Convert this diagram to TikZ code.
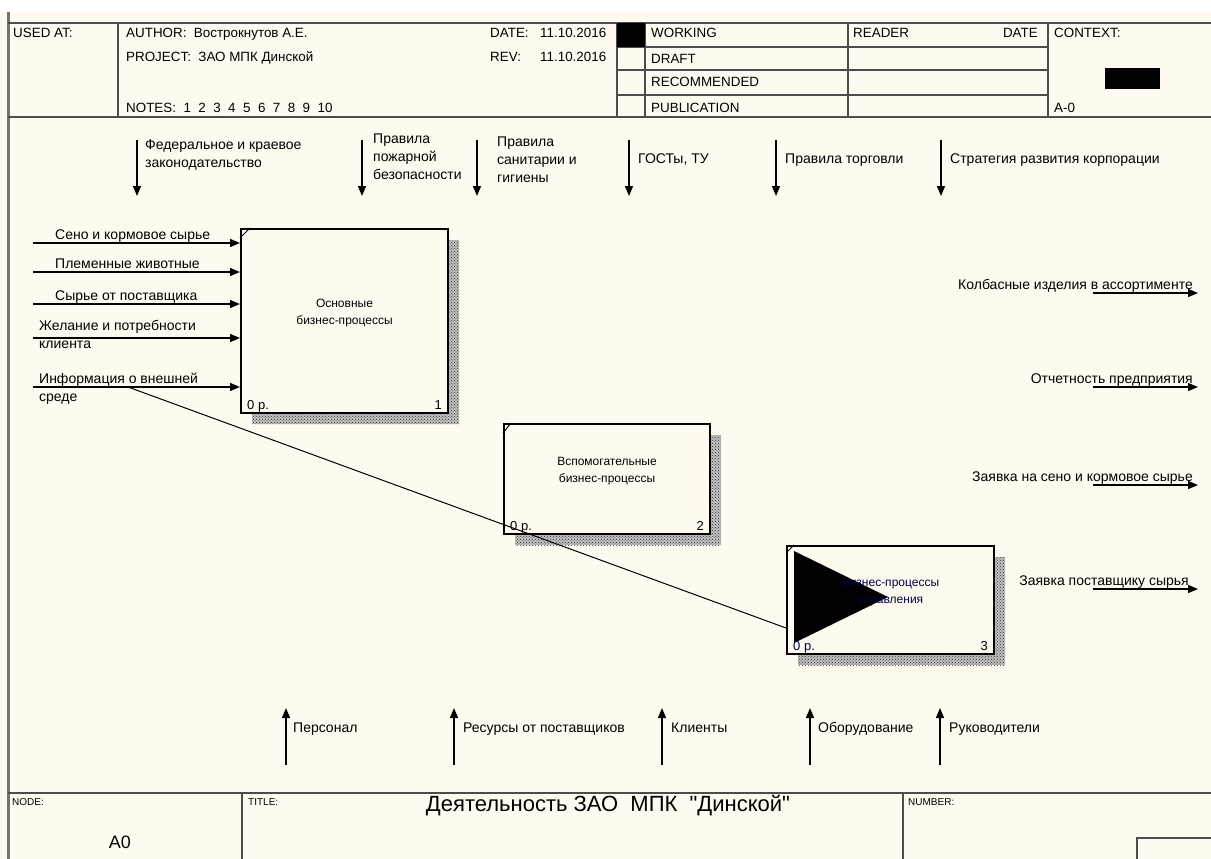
\documentclass[tikz,border=0pt]{standalone}
\usepackage{fontspec}
\setmainfont{Liberation Sans}
\newfontfamily\plainsans{Liberation Sans}
\usepackage{tikz}
\usetikzlibrary{arrows.meta}
\usetikzlibrary{patterns}
\definecolor{paper}{RGB}{255,250,240}

\begin{document}
\begin{tikzpicture}[x=1pt,y=-1pt,
        arr/.style={line width=1.3pt,-{Triangle[length=10pt,width=8pt]}},
        frm/.style={black!70,line width=1.2pt},
        lbl/.style={font=\fontsize{14}{18}\selectfont,inner sep=0pt,align=left},
        hdr/.style={font=\fontsize{13.4}{16}\selectfont,inner sep=0pt,anchor=base west},
        smalllbl/.style={font=\fontsize{10}{12}\selectfont,inner sep=0pt,anchor=base west},
        func/.style={draw,line width=2pt,fill=paper,inner sep=0pt,anchor=north west},
        ftext/.style={font=\fontsize{12}{17}\selectfont,inner sep=0pt,align=center},
        fnum/.style={font=\fontsize{13}{15}\selectfont,inner sep=0pt},
        shade/.style={fill=black!25,postaction={pattern=crosshatch dots,pattern color=black!80}}]
        \fill[white] (0,0) rectangle (1211,859);
        \fill[paper] (0,12) rectangle (1211,859);
        \useasboundingbox (0,0) rectangle (1211,859);
        \draw[black!55,line width=3pt] (8,12) -- (8,859);

        % header
        \draw[frm] (8,23) -- (1211,23);
        \draw[frm] (8,117) -- (1211,117);
        \draw[frm] (118,23) -- (118,117);
        \draw[frm] (617,23) -- (617,117);
        \draw[frm] (645,23) -- (645,117);
        \draw[frm] (848,23) -- (848,117);
        \draw[frm] (1048,23) -- (1048,117);
        \draw[frm] (617,47) -- (1048,47);
        \draw[frm] (617,70) -- (1048,70);
        \draw[frm] (617,95) -- (1048,95);
        \fill (617,23) rectangle (645,47);
        \fill (1105,68) rectangle (1160,89);

        \node[hdr] (usedat) at (13,38) {USED AT:};
        \node[hdr] (author) at (126,38) {AUTHOR:\ \ Вострокнутов А.Е.};
        \node[hdr] (project) at (126,62) {PROJECT:\ \ ЗАО МПК Динской};
        \node[hdr] (notes) at (126,113) {NOTES:\ \ 1\ \ 2\ \ 3\ \ 4\ \ 5\ \ 6\ \ 7\ \ 8\ \ 9\ \ 10};
        \node[hdr] (date) at (490,38) {DATE:};
        \node[hdr] (dateval) at (540,38) {11.10.2016};
        \node[hdr] (rev) at (490,62) {REV:};
        \node[hdr] (revval) at (540,62) {11.10.2016};
        \node[hdr] (working) at (651,38) {WORKING};
        \node[hdr] (draft) at (651,64) {DRAFT};
        \node[hdr] (recom) at (651,87) {RECOMMENDED};
        \node[hdr] (public) at (651,112) {PUBLICATION};
        \node[hdr] (reader) at (853,38) {READER};
        \node[hdr,anchor=base east] (rdate) at (1038,38) {DATE};
        \node[hdr] (context) at (1054,38) {CONTEXT:};
        \node[hdr] (ctxnode) at (1054,112) {A-0};

        % footer
        \draw[frm] (8,793) -- (1211,793);
        \draw[frm] (242,793) -- (242,859);
        \draw[frm] (903,793) -- (903,859);
        \draw[frm] (1137,859) -- (1137,838) -- (1211,838);
        \node[smalllbl] (nodelbl) at (12,805) {NODE:};
        \node[smalllbl] (titlelbl) at (248,805) {TITLE:};
        \node[smalllbl] (numlbl) at (908,805) {NUMBER:};
        \node[font=\plainsans\fontsize{22}{24}\selectfont,inner sep=0pt,anchor=base] (title) at (608,811) {Деятельность ЗАО\ \ МПК\ \ "Динской"};
        \node[font=\fontsize{18}{20}\selectfont,inner sep=0pt,anchor=base] (nodeid) at (120,848) {A0};

        % functions
        \fill[shade] (252,240) rectangle (459,424);
        \node[func,minimum width=207pt,minimum height=184pt] (osn) at (240,228) {};
        \draw[line width=1pt] ([yshift=-10pt]osn.north west) -- ([xshift=10pt]osn.north west);
        \node[ftext] (osn-t) at ([yshift=8pt]osn.center) {Основные\\бизнес-процессы};
        \node[fnum,anchor=base west] (osn-p) at ([xshift=7pt,yshift=5pt]osn.south west) {0 р.};
        \node[fnum,anchor=base east] (osn-n) at ([xshift=-7pt,yshift=5pt]osn.south east) {1};

        \fill[shade] (515,435) rectangle (721,545);
        \node[func,minimum width=206pt,minimum height=110pt] (vsp) at (503,423) {};
        \draw[line width=1pt] ([yshift=-10pt]vsp.north west) -- ([xshift=8pt]vsp.north west);
        \node[ftext] (vsp-t) at ([yshift=8pt]vsp.center) {Вспомогательные\\бизнес-процессы};
        \node[fnum,anchor=base west] (vsp-p) at ([xshift=7pt,yshift=5pt]vsp.south west) {0 р.};
        \node[fnum,anchor=base east] (vsp-n) at ([xshift=-7pt,yshift=5pt]vsp.south east) {2};

        \fill[shade] (798,557) rectangle (1005,665);
        \node[func,minimum width=207pt,minimum height=108pt] (upr) at (786,545) {};
        \draw[line width=1pt] ([yshift=-8pt]upr.north west) -- ([xshift=8pt]upr.north west);
        \fill ([xshift=8pt,yshift=-6pt]upr.north west) -- ([xshift=102pt,yshift=-52pt]upr.north west)
            -- ([xshift=8pt,yshift=-98pt]upr.north west) -- cycle;
        \node[ftext,text=black!70!blue] (upr-t) at ([yshift=8pt]upr.center) {Бизнес-процессы\\управления};
        \node[fnum,anchor=base west,text=black!70!blue] (upr-p) at ([xshift=7pt,yshift=5pt]upr.south west) {0 р.};
        \node[fnum,anchor=base east] (upr-n) at ([xshift=-7pt,yshift=5pt]upr.south east) {3};

        % inputs
        \foreach \y [count=\i] in {243,272,304,338,387} {
            \coordinate (in\i) at (33,\y);
            \draw[arr] (in\i) -- (in\i -| osn.west);
        }
        \node[lbl,anchor=base west] (in1-t) at (55,239) {Сено и кормовое сырье};
        \node[lbl,anchor=base west] (in2-t) at (55,268) {Племенные животные};
        \node[lbl,anchor=base west] (in3-t) at (55,300) {Сырье от поставщика};
        \node[lbl,anchor=north west] (in4-t) at (39,320) {Желание и потребности\\клиента};
        \node[lbl,anchor=north west] (in5-t) at (39,373) {Информация о внешней\\среде};

        \coordinate (br) at (128,387);
        \draw[line width=1pt] (br) -- ([yshift=-28pt]upr.west);

        % controls
        \foreach \x [count=\i] in {137,362,477,629,776,941} {
            \coordinate (c\i) at (\x,140);
            \coordinate (ce\i) at (\x,196);
            \draw[arr] (c\i) -- (ce\i);
        }
        \node[lbl,anchor=north west] (c1-t) at (145,140) {Федеральное и краевое\\законодательство};
        \node[lbl,anchor=north west] (c2-t) at (373,134) {Правила\\пожарной\\безопасности};
        \node[lbl,anchor=north west] (c3-t) at (497,137) {Правила\\санитарии и\\гигиены};
        \node[lbl,anchor=base west] (c4-t) at (638,163) {ГОСТы, ТУ};
        \node[lbl,anchor=base west] (c5-t) at (785,163) {Правила торговли};
        \node[lbl,anchor=base west] (c6-t) at (950,163) {Стратегия развития корпорации};

        % outputs
        \foreach \y [count=\i] in {293,387,485,589} {
            \coordinate (o\i) at (1093,\y);
            \coordinate (oe\i) at (1198,\y);
            \draw[arr] (o\i) -- (oe\i);
        }
        \node[lbl,anchor=base east] (o1-t) at (1193,289) {Колбасные изделия в ассортименте};
        \node[lbl,anchor=base east] (o2-t) at (1193,383) {Отчетность предприятия};
        \node[lbl,anchor=base east] (o3-t) at (1193,481) {Заявка на сено и кормовое сырье};
        \node[lbl,anchor=base east] (o4-t) at (1189,585) {Заявка поставщику сырья};

        % mechanisms
        \foreach \x [count=\i] in {286,454,662,810,940} {
            \coordinate (m\i) at (\x,765);
            \coordinate (me\i) at (\x,708);
            \draw[arr] (m\i) -- (me\i);
        }
        \node[lbl,anchor=base west] (m1-t) at (293,732) {Персонал};
        \node[lbl,anchor=base west] (m2-t) at (463,732) {Ресурсы от поставщиков};
        \node[lbl,anchor=base west] (m3-t) at (671,732) {Клиенты};
        \node[lbl,anchor=base west] (m4-t) at (818,732) {Оборудование};
        \node[lbl,anchor=base west] (m5-t) at (949,732) {Руководители};
\end{tikzpicture}
\end{document}
